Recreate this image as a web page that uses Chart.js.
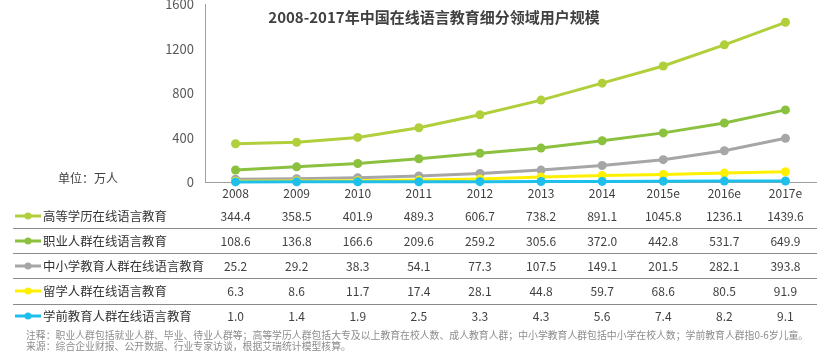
<!DOCTYPE html>
<html>
<head>
<meta charset="utf-8">
<script src="https://cdn.jsdelivr.net/npm/chart.js@4.4.1/dist/chart.umd.min.js"></script>
<style>
    html, body { margin: 0; padding: 0; background: #fff; }
    #wrap { width: 826px; height: 364px; position: relative; }
</style>
</head>
<body>
<div id="wrap"><canvas id="chart"></canvas></div>
<script>
// Data
const years = ['2008', '2009', '2010', '2011', '2012', '2013', '2014', '2015e', '2016e', '2017e'];
const seriesNames = ['高等学历在线语言教育', '职业人群在线语言教育', '中小学教育人群在线语言教育', '留学人群在线语言教育', '学前教育人群在线语言教育'];
const higherEd = [344.4, 358.5, 401.9, 489.3, 606.7, 738.2, 891.1, 1045.8, 1236.1, 1439.6];
const workers = [108.6, 136.8, 166.6, 209.6, 259.2, 305.6, 372.0, 442.8, 531.7, 649.9];
const k12 = [25.2, 29.2, 38.3, 54.1, 77.3, 107.5, 149.1, 201.5, 282.1, 393.8];
const studyAbroad = [6.3, 8.6, 11.7, 17.4, 28.1, 44.8, 59.7, 68.6, 80.5, 91.9];
const preschool = [1.0, 1.4, 1.9, 2.5, 3.3, 4.3, 5.6, 7.4, 8.2, 9.1];
const seriesColors = ['#b0cf3a', '#8bc13f', '#a6a6a6', '#fff000', '#1fbfec'];
const yTicks = [0, 400, 800, 1200, 1600];

const titleText = '2008-2017年中国在线语言教育细分领域用户规模';
const unitText = '单位：万人';
const notes = [
    '注释：职业人群包括就业人群、毕业、待业人群等；高等学历人群包括大专及以上教育在校人数、成人教育人群；中小学教育人群包括中小学在校人数；学前教育人群指0-6岁儿童。',
    '来源：综合企业财报、公开数据、行业专家访谈，根据艾瑞统计模型核算。'
];

const FONT = "'Noto Sans CJK SC', 'Noto Sans', sans-serif";
const allSeries = [higherEd, workers, k12, studyAbroad, preschool];

// Title, y labels and the data table
const tablePlugin = {
    id: 'tablePlugin',
    afterDraw(chart) {
        const ctx = chart.ctx;
        const x = chart.scales.x;
        const yScale = chart.scales.y;
        const rowY = [216, 241, 266, 291, 316];
        const sepY = [228.5, 253.5, 278.5, 304.5];
        ctx.save();

        // y tick labels (drawn here so they don't push the chart area down)
        ctx.font = '13px ' + FONT;
        ctx.fillStyle = '#595959';
        ctx.textAlign = 'right';
        ctx.textBaseline = 'middle';
        yTicks.forEach(v => ctx.fillText(String(v), 194, yScale.getPixelForValue(v)));

        // title
        ctx.font = 'bold 15px ' + FONT;
        ctx.fillStyle = '#404040';
        ctx.textAlign = 'center';
        ctx.fillText(titleText, 434, 17);

        // unit
        ctx.font = '12px ' + FONT;
        ctx.textAlign = 'left';
        ctx.fillText(unitText, 58, 178);

        // separators
        ctx.strokeStyle = '#8a8a8a';
        ctx.lineWidth = 1;
        sepY.forEach(y => {
            ctx.beginPath();
            ctx.moveTo(13, y);
            ctx.lineTo(817, y);
            ctx.stroke();
        });

        // rows
        allSeries.forEach((data, i) => {
            const y = rowY[i];
            ctx.strokeStyle = seriesColors[i];
            ctx.fillStyle = seriesColors[i];
            ctx.lineWidth = 3;
            ctx.beginPath();
            ctx.moveTo(15, y);
            ctx.lineTo(41, y);
            ctx.stroke();
            ctx.beginPath();
            ctx.arc(28, y, 3.5, 0, Math.PI * 2);
            ctx.fill();

            ctx.fillStyle = '#333';
            ctx.font = '12.4px ' + FONT;
            ctx.textAlign = 'left';
            ctx.fillText(seriesNames[i], 43, y);

            ctx.fillStyle = '#404040';
            ctx.font = '12px ' + FONT;
            ctx.textAlign = 'center';
            data.forEach((v, j) => {
                ctx.fillText(v.toFixed(1), x.getPixelForValue(j), y);
            });
        });

        // notes
        ctx.font = '9.85px ' + FONT;
        ctx.fillStyle = '#8c8c8c';
        ctx.textAlign = 'left';
        ctx.fillText(notes[0], 26, 335);
        ctx.fillText(notes[1], 26, 346);

        ctx.restore();
    }
};

new Chart(document.getElementById('chart'), {
    type: 'line',
    data: {
        labels: years,
        datasets: allSeries.map((data, i) => ({
            label: seriesNames[i],
            data: data,
            borderColor: seriesColors[i],
            backgroundColor: seriesColors[i],
            borderWidth: 3,
            pointRadius: 4.5,
            pointBorderWidth: 0,
            tension: 0,
            clip: false,
            order: allSeries.length - i
        }))
    },
    options: {
        responsive: true,
        maintainAspectRatio: false,
        animation: false,
        layout: { padding: { top: 4, left: 0, right: 10, bottom: 162 } },
        plugins: {
            legend: { display: false },
            tooltip: { enabled: false }
        },
        scales: {
            x: {
                offset: true,
                grid: { display: false, drawTicks: false },
                border: { color: '#a0a0a0', width: 1 },
                ticks: { color: '#404040', font: { family: FONT, size: 12 }, padding: 4, maxRotation: 0 },
                afterFit(scale) { scale.height = 20; }
            },
            y: {
                min: 0,
                max: 1600,
                grid: { display: false, drawTicks: false },
                border: { color: '#a0a0a0', width: 1 },
                afterBuildTicks(scale) { scale.ticks = yTicks.map(v => ({ value: v })); },
                ticks: { display: false },
                afterFit(scale) { scale.width = 205; }
            }
        }
    },
    plugins: [tablePlugin]
});
</script>
</body>
</html>
